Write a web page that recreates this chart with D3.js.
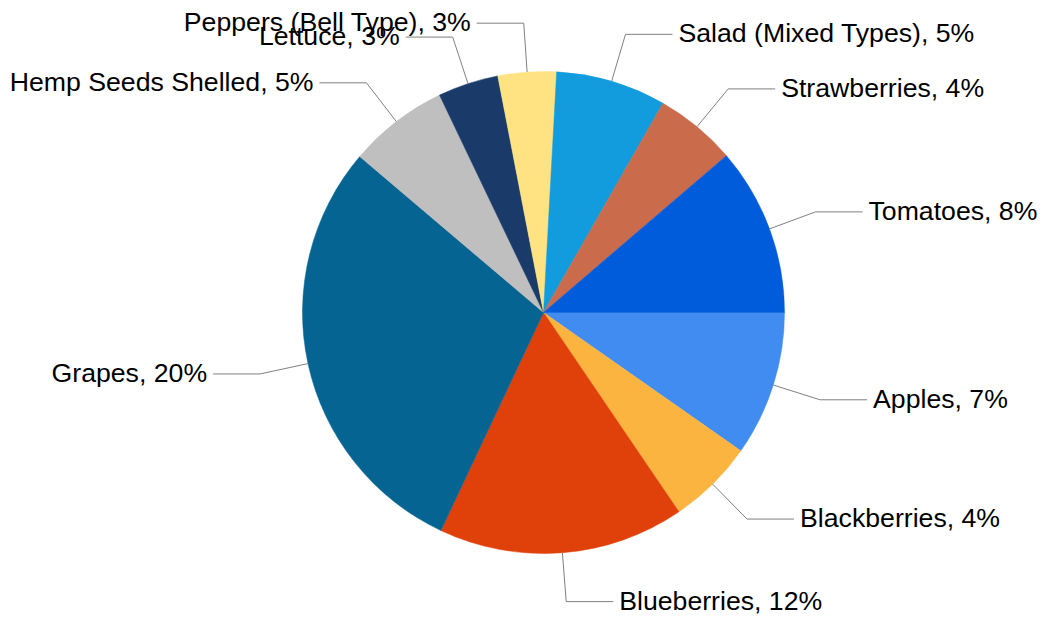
<!DOCTYPE html>
<html>
<head>
<meta charset="utf-8">
<script src="https://cdn.jsdelivr.net/npm/d3@7"></script>
<style>
  html, body { margin: 0; padding: 0; background: #ffffff; }
  svg { display: block; }
</style>
</head>
<body>
<svg id="chart" width="1044" height="617"></svg>
<script>
// ---- data ----
const categories = ["Apples", "Blackberries", "Blueberries", "Grapes", "Hemp Seeds Shelled",
  "Lettuce", "Peppers (Bell Type)", "Salad (Mixed Types)", "Strawberries", "Tomatoes"];
const shares = [6.80, 4.03, 11.53, 20.4, 4.68, 2.84, 2.73, 5.16, 3.82, 7.88]; // percent of total
const colors = ["#418CF0", "#FCB441", "#E0400A", "#056492", "#BFBFBF",
  "#1A3B69", "#FFE382", "#129CDD", "#CA6B4B", "#005CDB"];

const data = categories.map((c, i) => ({ name: c, value: shares[i], color: colors[i] }));

const svg = d3.select("#chart");
const cx = 543.5, cy = 312.5, r = 241;
const elbowR = 290, hLen = 47, gap = 6;

const pie = d3.pie().sort(null).value(d => d.value)
  .startAngle(Math.PI / 2).endAngle(Math.PI / 2 + 2 * Math.PI);
const arcs = pie(data);
const arc = d3.arc().innerRadius(0).outerRadius(r);
const edgeArc = d3.arc().innerRadius(r).outerRadius(r);
const elbowArc = d3.arc().innerRadius(elbowR).outerRadius(elbowR);

const g = svg.append("g").attr("transform", `translate(${cx},${cy})`);

g.selectAll("path.slice").data(arcs).enter().append("path")
  .attr("class", "slice")
  .attr("d", arc)
  .attr("fill", d => d.data.color)
  .attr("stroke", d => d.data.color)
  .attr("stroke-width", 0.5);

const fmt = d => `${d.data.name}, ${Math.round(d.data.value)}%`;

arcs.forEach(d => {
  const p1 = edgeArc.centroid(d);
  const p2 = elbowArc.centroid(d);
  const right = p2[0] >= 0;
  const p3 = [p2[0] + (right ? hLen : -hLen), p2[1]];
  g.append("polyline")
    .attr("points", [p1, p2, p3].map(p => p.join(",")).join(" "))
    .attr("fill", "none")
    .attr("stroke", "#808080")
    .attr("stroke-width", 1);
  g.append("text")
    .attr("x", p3[0] + (right ? gap : -gap))
    .attr("y", p3[1])
    .attr("dy", "0.3em")
    .attr("text-anchor", right ? "start" : "end")
    .attr("font-family", "'Liberation Sans', Arial, sans-serif")
    .attr("font-size", "26.67px")
    .attr("fill", "#000000")
    .text(fmt(d));
});
</script>
</body>
</html>
